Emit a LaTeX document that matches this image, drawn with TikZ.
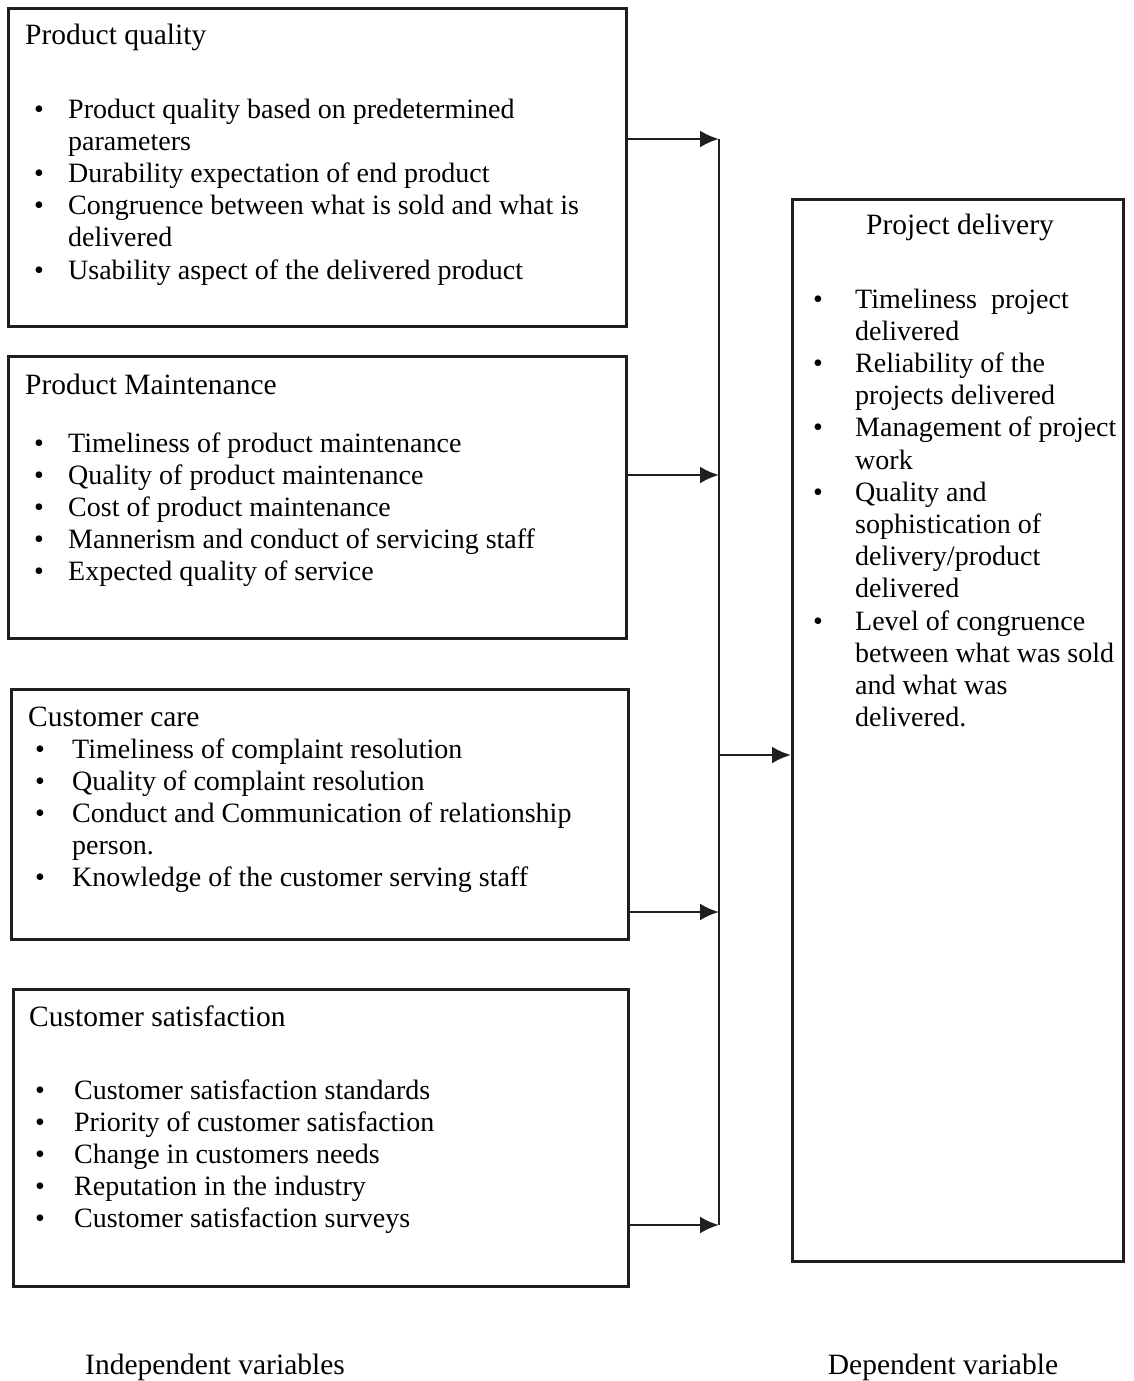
\documentclass[tikz,border=0pt]{standalone}
\usepackage{fontspec}
\setmainfont{Liberation Serif}
\usetikzlibrary{arrows.meta}
\begin{document}
\begin{tikzpicture}[x=1pt,y=-1pt,
  box/.style={draw=black!88, line width=2.8pt, anchor=north west, inner sep=0},
  ttl/.style={anchor=base west, inner sep=0, font=\fontsize{29.5}{33}\selectfont},
  items/.style={anchor=base west, inner sep=0, font=\fontsize{28}{32.2}\selectfont},
  conn/.style={line width=2.8pt, draw=black!88},
  arr/.style={conn, -{Latex[length=19pt,width=17pt]}}
]
\fill[white] (0,0) rectangle (1134,1381);
\useasboundingbox (0,0) rectangle (1134,1381);

% boxes
\node[box, minimum width=618pt, minimum height=318pt] (b1) at (7,7) {};
\node[box, minimum width=618pt, minimum height=282pt] (b2) at (7,355) {};
\node[box, minimum width=617pt, minimum height=250pt] (b3) at (10,688) {};
\node[box, minimum width=615pt, minimum height=297pt] (b4) at (12,988) {};
\node[box, minimum width=331pt, minimum height=1062pt] (pd) at (791,198) {};

% titles
\node[ttl] (t1) at (25,45) {Product quality};
\node[ttl] (t2) at (25,394) {Product Maintenance};
\node[ttl] (t3) at (28,726) {Customer care};
\node[ttl] (t4) at (29,1026) {Customer satisfaction};
\node[ttl, anchor=base] (tp) at (960,234) {Project delivery};

% lists
\node[items] (l1) at (34,118) {\begin{tabular}[t]{@{}p{34pt}@{}l@{}}
\textbullet & Product quality based on predetermined\\
 & parameters\\
\textbullet & Durability expectation of end product\\
\textbullet & Congruence between what is sold and what is\\
 & delivered\\
\textbullet & Usability aspect of the delivered product
\end{tabular}};

\node[items] (l2) at (34,452) {\begin{tabular}[t]{@{}p{34pt}@{}l@{}}
\textbullet & Timeliness of product maintenance\\
\textbullet & Quality of product maintenance\\
\textbullet & Cost of product maintenance\\
\textbullet & Mannerism and conduct of servicing staff\\
\textbullet & Expected quality of service
\end{tabular}};

\node[items] (l3) at (35,758) {\begin{tabular}[t]{@{}p{37pt}@{}l@{}}
\textbullet & Timeliness of complaint resolution\\
\textbullet & Quality of complaint resolution\\
\textbullet & Conduct and Communication of relationship\\
 & person.\\
\textbullet & Knowledge of the customer serving staff
\end{tabular}};

\node[items] (l4) at (35,1099) {\begin{tabular}[t]{@{}p{39pt}@{}l@{}}
\textbullet & Customer satisfaction standards\\
\textbullet & Priority of customer satisfaction\\
\textbullet & Change in customers needs\\
\textbullet & Reputation in the industry\\
\textbullet & Customer satisfaction surveys
\end{tabular}};

\node[items] (lp) at (813,308) {\begin{tabular}[t]{@{}p{42pt}@{}l@{}}
\textbullet & Timeliness\ \ project\\
 & delivered\\
\textbullet & Reliability of the\\
 & projects delivered\\
\textbullet & Management of project\\
 & work\\
\textbullet & Quality and\\
 & sophistication of\\
 & delivery/product\\
 & delivered\\
\textbullet & Level of congruence\\
 & between what was sold\\
 & and what was\\
 & delivered.
\end{tabular}};

% bottom labels
\node[ttl] (iv) at (85,1374) {Independent variables};
\node[ttl, anchor=base] (dv) at (943,1374) {Dependent variable};

% connectors
\coordinate (j1) at (719,139);
\coordinate (j2) at (719,475);
\coordinate (jm) at (719,755);
\coordinate (j3) at (719,912);
\coordinate (j4) at (719,1225);
\draw[conn] (j1) -- (j4);
\draw[arr] (b1.east |- j1) -- (j1);
\draw[arr] (b2.east |- j2) -- (j2);
\draw[arr] (b3.east |- j3) -- (j3);
\draw[arr] (b4.east |- j4) -- (j4);
\draw[arr] (jm) -- (jm -| pd.west);
\end{tikzpicture}
\end{document}
